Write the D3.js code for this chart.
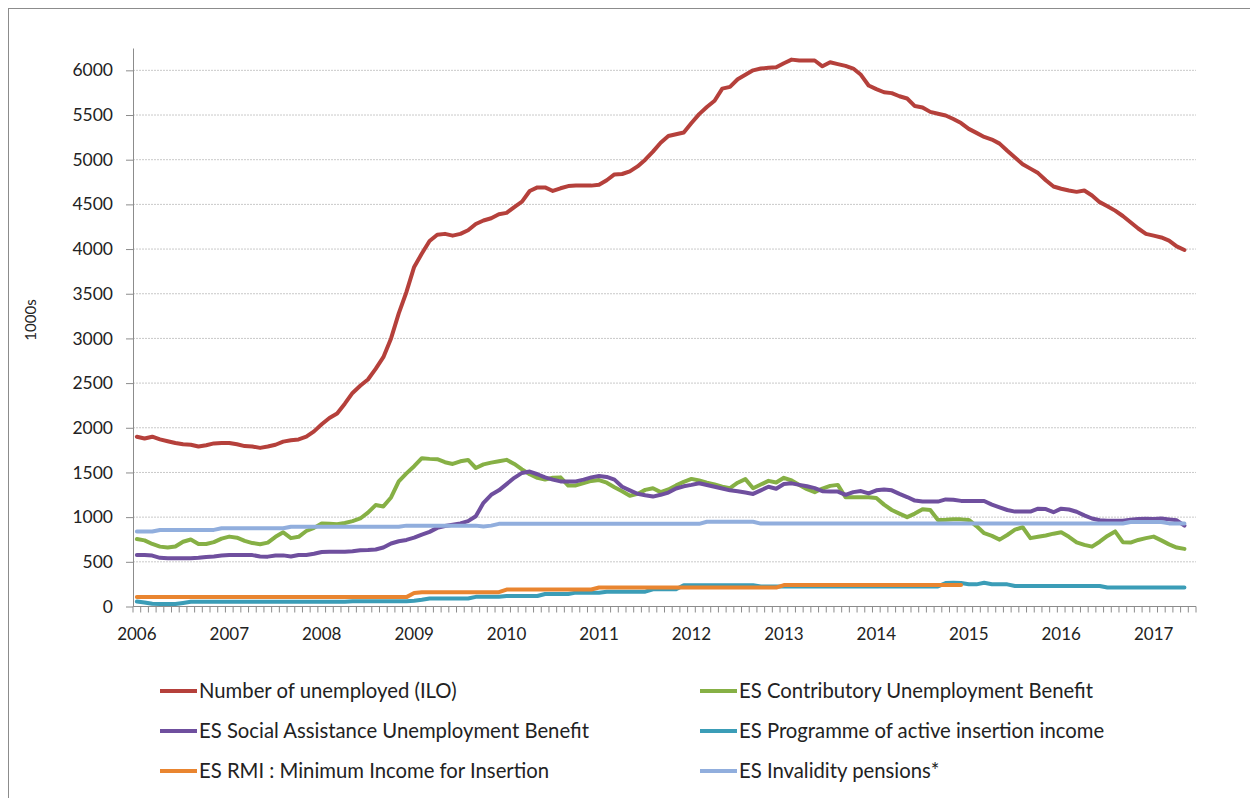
<!DOCTYPE html>
<html>
<head>
<meta charset="utf-8">
<script src="https://cdn.jsdelivr.net/npm/d3@7"></script>
<style>
  body { margin: 0; background: #fff; }
  text { font-family: Lato, "Open Sans", sans-serif; fill: #222; }
</style>
</head>
<body>
<div id="chart"></div>
<script>
// Monthly values, Jan 2006 .. May 2017 (thousands)
var unemployed = [
  1900,1880,1900,1870,1850,1830,1815,1810,1790,1805,1825,1830,
  1830,1815,1795,1790,1775,1790,1810,1845,1860,1870,1900,1960,
  2040,2110,2160,2270,2390,2470,2540,2660,2790,3000,3280,3520,
  3800,3950,4090,4160,4170,4150,4170,4210,4280,4320,4345,4390,
  4405,4470,4530,4650,4690,4690,4650,4680,4705,4710,4710,4710,
  4720,4770,4835,4840,4870,4925,5000,5090,5190,5265,5285,5305,
  5410,5510,5590,5660,5795,5815,5900,5950,6000,6020,6030,6035,
  6080,6120,6110,6110,6110,6045,6090,6070,6050,6020,5950,5830,
  5790,5755,5745,5710,5685,5600,5585,5535,5515,5495,5455,5410,
  5345,5300,5255,5225,5180,5100,5025,4950,4900,4850,4770,4700,
  4675,4655,4640,4655,4600,4525,4480,4430,4370,4300,4230,4170,
  4150,4130,4095,4030,3990
];
var contributory = [
  755,740,700,670,660,672,725,750,700,700,720,760,
  782,770,735,710,697,715,780,830,765,780,845,880,
  930,925,920,935,955,985,1050,1135,1120,1220,1400,1490,
  1570,1660,1652,1648,1615,1595,1625,1640,1550,1590,1610,1625,
  1641,1595,1535,1480,1440,1420,1440,1445,1353,1355,1380,1405,
  1415,1385,1335,1290,1240,1260,1305,1324,1280,1310,1355,1395,
  1428,1410,1385,1365,1340,1324,1385,1425,1324,1365,1406,1387,
  1440,1410,1360,1313,1280,1320,1350,1361,1222,1223,1223,1223,
  1215,1140,1080,1040,1000,1040,1089,1080,969,972,977,975,
  969,900,820,790,748,800,860,887,765,780,795,815,
  830,780,718,690,670,725,790,840,720,715,745,765,
  782,740,695,660,645
];
var socialAssistance = [
  577,575,570,545,540,540,540,540,545,555,560,570,
  577,577,577,575,560,558,570,572,560,577,577,590,
  610,614,614,614,618,630,633,638,660,705,730,745,
  770,805,835,880,900,915,930,955,1010,1160,1250,1300,
  1370,1440,1495,1510,1480,1445,1420,1400,1398,1400,1420,1445,
  1460,1450,1420,1340,1300,1262,1245,1230,1250,1275,1320,1345,
  1361,1380,1360,1340,1320,1300,1290,1275,1260,1300,1340,1318,
  1370,1378,1361,1345,1325,1290,1286,1286,1250,1280,1292,1265,
  1300,1310,1300,1260,1225,1185,1174,1174,1174,1198,1195,1182,
  1180,1180,1180,1140,1110,1080,1062,1062,1062,1095,1090,1055,
  1095,1085,1060,1020,985,965,961,961,961,970,980,982,
  980,985,975,965,905
];
var activeInsertion = [
  55,45,30,28,28,28,40,52,52,52,52,52,
  52,52,52,52,52,52,52,52,52,52,52,52,
  52,52,52,52,58,58,58,58,58,58,58,58,
  65,75,90,90,90,90,90,90,108,108,108,108,
  118,118,118,118,118,140,140,140,140,155,155,155,
  155,166,166,166,166,166,166,193,193,193,193,238,
  238,238,238,238,238,238,238,238,238,225,225,225,
  225,225,225,225,225,225,225,225,225,225,225,225,
  225,225,225,225,225,225,225,225,225,262,267,262,
  248,248,265,250,248,248,230,230,230,230,230,230,
  230,230,230,230,230,230,212,212,212,212,212,212,
  212,212,212,212,212
];
var rmi = [
  105,105,105,105,105,105,105,105,105,105,105,105,
  105,105,105,105,105,105,105,105,105,105,105,105,
  105,105,105,105,105,105,105,105,105,105,105,105,
  150,160,160,160,160,160,160,160,160,160,160,160,
  190,190,190,190,190,190,190,190,190,190,190,190,
  212,212,212,212,212,212,212,212,212,212,212,212,
  212,212,212,212,212,212,212,212,212,212,212,212,
  240,240,240,240,240,240,240,240,240,240,240,240,
  240,240,240,240,240,240,240,240,240,240,240,240,
  null,null,null,null,null,null,null,null,null,null,null,null,
  null,null,null,null,null,null,null,null,null,null,null,null,
  null,null,null,null,null
];
var invalidity = [
  840,840,840,857,857,857,857,857,857,857,857,876,
  876,876,876,876,876,876,876,876,893,893,893,893,
  893,893,893,893,893,893,893,893,893,893,893,905,
  905,905,905,905,905,905,905,905,905,895,905,925,
  925,925,925,925,925,925,925,925,925,925,925,925,
  925,925,925,925,925,925,925,925,925,925,925,925,
  925,925,948,948,948,948,948,948,948,928,928,928,
  928,928,928,928,928,928,928,928,928,928,928,928,
  928,928,928,928,928,928,928,928,928,928,928,928,
  928,928,928,928,928,928,928,928,928,928,928,928,
  928,928,928,928,928,928,928,928,928,945,945,945,
  945,945,930,930,930
];

var seriesNames = [
  "Number of unemployed (ILO)",
  "ES Contributory Unemployment Benefit",
  "ES Social Assistance Unemployment Benefit",
  "ES Programme of active insertion income",
  "ES RMI : Minimum Income for Insertion",
  "ES Invalidity pensions*"
];
var seriesColors = ["#b5403b", "#86b045", "#6f4f9e", "#3b9db7", "#e98530", "#91aedd"];
var seriesValues = [unemployed, contributory, socialAssistance, activeInsertion, rmi, invalidity];

var yTicks = d3.range(0, 6001, 500);

// Category axis: one slot per month, Jan 2006 .. Jun 2017
var months = d3.timeMonth.range(new Date(2006, 0, 1), new Date(2017, 6, 1));

var svgWidth = 1250;
var svgHeight = 798;
var plot = { left: 133, right: 1196, top: 48, bottom: 606.5 };

var svg = d3.select("#chart")
  .append("svg")
  .attr("width", svgWidth)
  .attr("height", svgHeight);

// outer frame
svg.append("rect")
  .attr("x", 8.5).attr("y", 8.5)
  .attr("width", 1300).attr("height", 900)
  .attr("fill", "none")
  .attr("stroke", "#8c8c8c");

var x = d3.scaleBand()
  .domain(d3.range(months.length))
  .range([plot.left, plot.right])
  .padding(0);

var y = d3.scaleLinear()
  .domain([0, 6250])
  .range([plot.bottom, plot.top]);

// gridlines
svg.append("g")
  .selectAll("line")
  .data(yTicks.filter(d => d > 0))
  .enter()
  .append("line")
  .attr("x1", plot.left)
  .attr("x2", plot.right)
  .attr("y1", d => y(d))
  .attr("y2", d => y(d))
  .attr("stroke", "#c9c9c9")
  .attr("stroke-dasharray", "2,1");

// y axis
var leftAxis = d3.axisLeft(y)
  .tickValues(yTicks)
  .tickSize(7)
  .tickPadding(13)
  .tickSizeOuter(0)
  .tickFormat(d3.format("d"));

var yAxis = svg.append("g")
  .attr("transform", `translate(${plot.left}, 0)`)
  .call(leftAxis);
yAxis.select(".domain").attr("stroke", "#8c8c8c");
yAxis.selectAll(".tick line").attr("stroke", "#8c8c8c");
yAxis.selectAll(".tick text")
  .attr("font-size", "17.5px")
  .attr("fill", "#222");

// x axis: month tick marks at category edges, year labels on Januaries
var xAxisGroup = svg.append("g");
xAxisGroup.append("line")
  .attr("x1", plot.left).attr("x2", plot.right)
  .attr("y1", plot.bottom).attr("y2", plot.bottom)
  .attr("stroke", "#8c8c8c");

xAxisGroup.selectAll("line.mtick")
  .data(d3.range(months.length + 1))
  .enter()
  .append("line")
  .attr("class", "mtick")
  .attr("x1", d => d < months.length ? x(d) : plot.right)
  .attr("x2", d => d < months.length ? x(d) : plot.right)
  .attr("y1", plot.bottom)
  .attr("y2", plot.bottom + 6)
  .attr("stroke", "#8c8c8c");

var januaries = d3.range(months.length).filter(i => months[i].getMonth() === 0);
var bottomAxis = d3.axisBottom(x)
  .tickValues(januaries)
  .tickSize(0)
  .tickPadding(21)
  .tickFormat(i => months[i].getFullYear());

var xAxis = svg.append("g")
  .attr("transform", `translate(0, ${plot.bottom})`)
  .call(bottomAxis);
xAxis.select(".domain").remove();
xAxis.selectAll(".tick text")
  .attr("font-size", "17px")
  .attr("fill", "#222");

// y title
svg.append("text")
  .attr("transform", "translate(36, 320) rotate(-90)")
  .attr("text-anchor", "middle")
  .attr("font-size", "15px")
  .text("1000s");

// lines
var line = d3.line()
  .defined(d => d != null)
  .x((d, i) => x(i) + x.bandwidth() / 2)
  .y(d => y(d));

svg.append("g")
  .selectAll("path")
  .data(seriesValues)
  .enter()
  .append("path")
  .attr("d", d => line(d))
  .attr("fill", "none")
  .attr("stroke", (d, i) => seriesColors[i])
  .attr("stroke-width", 4)
  .attr("stroke-linejoin", "round")
  .attr("stroke-linecap", "round");

// legend, two columns x three rows
var legend = svg.append("g");
var legendItems = legend.selectAll("g")
  .data(seriesNames)
  .enter()
  .append("g")
  .attr("transform", (d, i) => `translate(${i % 2 === 0 ? 160 : 700}, ${691 + Math.floor(i / 2) * 40})`);

legendItems.append("line")
  .attr("x1", 0).attr("x2", 37)
  .attr("y1", 0).attr("y2", 0)
  .attr("stroke", (d, i) => seriesColors[i])
  .attr("stroke-width", 4);

legendItems.append("text")
  .attr("x", 39)
  .attr("y", 0)
  .attr("dy", "0.35em")
  .attr("font-size", "20.3px")
  .text(d => d);
</script>
</body>
</html>
